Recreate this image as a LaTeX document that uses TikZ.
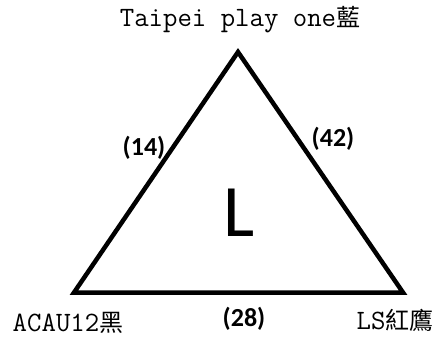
\documentclass[tikz,border=0pt]{standalone}
\usepackage{fontspec}
\newfontfamily\cjkfnt{Noto Sans CJK TC}
\newfontfamily\lblfnt{Carlito}
\begin{document}
\begin{tikzpicture}[x=1pt,y=-1pt,
  vlabel/.style={inner sep=0pt,anchor=base,font=\ttfamily\fontsize{28}{28}\selectfont},
  elabel/.style={inner sep=0pt,font=\lblfnt\bfseries\fontsize{26}{26}\selectfont},
  edge/.style={line width=4.5pt,line join=miter}]
\useasboundingbox (0,0) rectangle (441,341);
\coordinate (A) at (238,52);
\coordinate (B) at (74,292.5);
\coordinate (C) at (403,292.5);
\draw[edge] (A) -- (B) -- (C) -- cycle;
\node[vlabel] (ta) at (240,26) {Taipei play one{\cjkfnt\fontsize{24}{24}\selectfont 藍}};
\node[vlabel] (tb) at (68,331) {ACAU12{\cjkfnt\fontsize{24}{24}\selectfont 黑}};
\node[vlabel] (tc) at (395,329) {LS{\cjkfnt\fontsize{24}{24}\selectfont 紅鷹}};
\node[elabel] (e1) at (144,148) {(14)};
\node[elabel] (e2) at (333,139) {(42)};
\node[elabel] (e3) at (244,319) {(28)};
\node[inner sep=0pt,font=\lblfnt\fontsize{74}{74}\selectfont] (L) at (239,213) {L};
\end{tikzpicture}
\end{document}
